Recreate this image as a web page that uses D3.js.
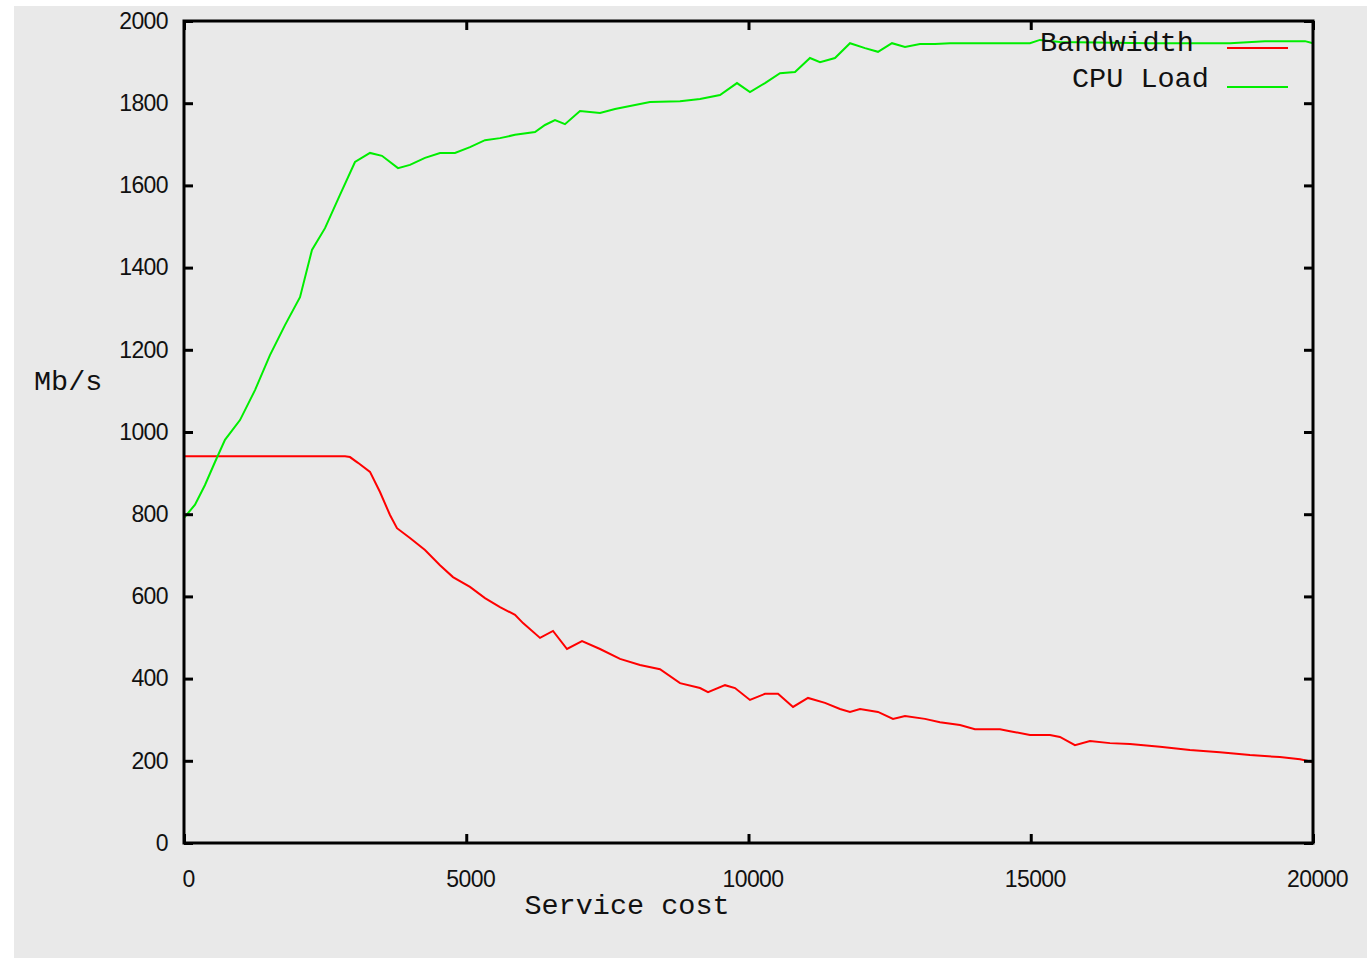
<!DOCTYPE html>
<html>
<head>
<meta charset="utf-8">
<script src="https://cdn.jsdelivr.net/npm/d3@7"></script>
<style>
  body { margin: 0; background: #fff; }
  svg { display: block; }
</style>
</head>
<body>
<main></main>
<script>
// service cost values (x) and Mb/s values (y)
let cpuCost = [0, 195, 372, 549, 726, 992, 1258, 1523, 1789, 2055, 2267, 2498, 2763, 3029, 3295, 3507, 3791, 4003, 4269, 4535, 4800, 5066, 5332, 5598, 5864, 6218, 6395, 6572, 6749, 7015, 7370, 7635, 7901, 8255, 8787, 9141, 9495, 9796, 10026, 10292, 10558, 10824, 11089, 11267, 11532, 11798, 12064, 12294, 12542, 12772, 13038, 13304, 13569, 14455, 14986, 15163, 15517, 17112, 18529, 19149, 19858, 20000];
let cpuLoad = [791, 823, 871, 927, 981, 1029, 1102, 1187, 1260, 1328, 1443, 1496, 1577, 1657, 1679, 1672, 1642, 1650, 1667, 1679, 1679, 1693, 1710, 1715, 1723, 1730, 1747, 1759, 1749, 1781, 1776, 1786, 1793, 1803, 1805, 1810, 1820, 1849, 1827, 1849, 1873, 1876, 1910, 1900, 1910, 1946, 1934, 1925, 1946, 1937, 1944, 1944, 1946, 1946, 1946, 1954, 1949, 1946, 1946, 1951, 1951, 1946];

let bwCost = [0, 2852, 2940, 3082, 3295, 3472, 3649, 3773, 4003, 4269, 4535, 4765, 5066, 5332, 5598, 5864, 6006, 6307, 6537, 6785, 7051, 7370, 7724, 8078, 8432, 8787, 9141, 9283, 9584, 9761, 10026, 10292, 10523, 10789, 11054, 11355, 11621, 11798, 11975, 12294, 12560, 12772, 13126, 13392, 13746, 14012, 14455, 14632, 14986, 15340, 15517, 15783, 16049, 16403, 16758, 17289, 17820, 18351, 18883, 19414, 19770, 20000];
let bandwidth = [941, 941, 939, 925, 903, 854, 798, 766, 742, 713, 676, 647, 623, 596, 574, 555, 535, 499, 516, 472, 491, 472, 448, 433, 423, 389, 377, 367, 384, 377, 348, 363, 363, 331, 353, 341, 326, 319, 326, 319, 302, 309, 302, 294, 287, 277, 277, 272, 263, 263, 258, 238, 248, 243, 241, 234, 226, 221, 214, 209, 204, 197];

let xTicks = [0, 5000, 10000, 15000, 20000];
let yTicks = [0, 200, 400, 600, 800, 1000, 1200, 1400, 1600, 1800, 2000];

let series = [
    { name: "Bandwidth", colour: "#ff0000", xs: bwCost, ys: bandwidth },
    { name: "CPU Load", colour: "#00ee00", xs: cpuCost, ys: cpuLoad }
];

let width = 1367, height = 961;
let plotLeft = 184, plotRight = 1313, plotTop = 21, plotBottom = 843;

let svg = d3.select("main").append("svg").attr("width", width).attr("height", height);

svg.append("rect")
   .attr("x", 14).attr("y", 6)
   .attr("width", 1353).attr("height", 952)
   .attr("fill", "#e9e9e9");

let x = d3.scaleLinear().domain([0, 20000]).range([plotLeft, plotRight]);
let y = d3.scaleLinear().domain([0, 2000]).range([plotBottom, plotTop]);

// lines
let line = d3.line().x(d => x(d[0])).y(d => y(d[1]));

svg.selectAll("path.series")
   .data(series)
   .enter()
   .append("path")
   .attr("class", "series")
   .attr("d", s => line(s.xs.map((v, i) => [v, s.ys[i]])))
   .attr("fill", "none")
   .attr("stroke", s => s.colour)
   .attr("stroke-width", 2);

// frame
svg.append("rect")
   .attr("x", plotLeft).attr("y", plotTop)
   .attr("width", plotRight - plotLeft).attr("height", plotBottom - plotTop)
   .attr("fill", "none")
   .attr("stroke", "#000")
   .attr("stroke-width", 3);

// ticks on every side, pointing inwards
let tickLen = 9;
let tickFont = "'Liberation Sans', Arial, sans-serif";
let plain = d3.format("d");

svg.append("g")
   .attr("transform", `translate(0,${plotBottom})`)
   .call(d3.axisBottom(x).tickValues(xTicks).tickFormat(plain).tickSizeInner(-tickLen).tickSizeOuter(0).tickPadding(28))
   .call(g => g.select(".domain").remove())
   .call(g => g.selectAll("line").attr("stroke-width", 3))
   .call(g => g.selectAll("text").attr("font-family", tickFont).attr("font-size", 23).attr("fill", "#111").attr("dx", 4).attr("letter-spacing", -0.6));

svg.append("g")
   .attr("transform", `translate(0,${plotTop})`)
   .call(d3.axisTop(x).tickValues(xTicks).tickSizeInner(-tickLen).tickSizeOuter(0).tickFormat(""))
   .call(g => g.select(".domain").remove())
   .call(g => g.selectAll("line").attr("stroke-width", 3));

svg.append("g")
   .attr("transform", `translate(${plotLeft},0)`)
   .call(d3.axisLeft(y).tickValues(yTicks).tickFormat(plain).tickSizeInner(-tickLen).tickSizeOuter(0).tickPadding(16))
   .call(g => g.select(".domain").remove())
   .call(g => g.selectAll("line").attr("stroke-width", 3))
   .call(g => g.selectAll("text").attr("font-family", tickFont).attr("font-size", 23).attr("fill", "#111").attr("letter-spacing", -0.6));

svg.append("g")
   .attr("transform", `translate(${plotRight},0)`)
   .call(d3.axisRight(y).tickValues(yTicks).tickSizeInner(-tickLen).tickSizeOuter(0).tickFormat(""))
   .call(g => g.select(".domain").remove())
   .call(g => g.selectAll("line").attr("stroke-width", 3));

// axis titles
let monoFont = "'Liberation Mono', 'Courier New', monospace";

svg.append("text")
   .attr("x", 627).attr("y", 914)
   .attr("text-anchor", "middle")
   .attr("font-family", monoFont).attr("font-size", 28.5).attr("fill", "#111")
   .text("Service cost");

svg.append("text")
   .attr("x", 34).attr("y", 390)
   .attr("font-family", monoFont).attr("font-size", 28.5).attr("fill", "#111")
   .text("Mb/s");

// legend
let legend = svg.append("g");
let legendRows = [1040, 1072];

legend.selectAll("text")
   .data(series)
   .enter()
   .append("text")
   .attr("x", (d, i) => legendRows[i])
   .attr("y", (d, i) => 51 + i * 36)
   .attr("font-family", monoFont).attr("font-size", 28.5).attr("fill", "#111")
   .text(d => d.name);

legend.selectAll("line")
   .data(series)
   .enter()
   .append("line")
   .attr("x1", 1227).attr("x2", 1288)
   .attr("y1", (d, i) => 48 + i * 39)
   .attr("y2", (d, i) => 48 + i * 39)
   .attr("stroke", d => d.colour)
   .attr("stroke-width", 2);
</script>
</body>
</html>
